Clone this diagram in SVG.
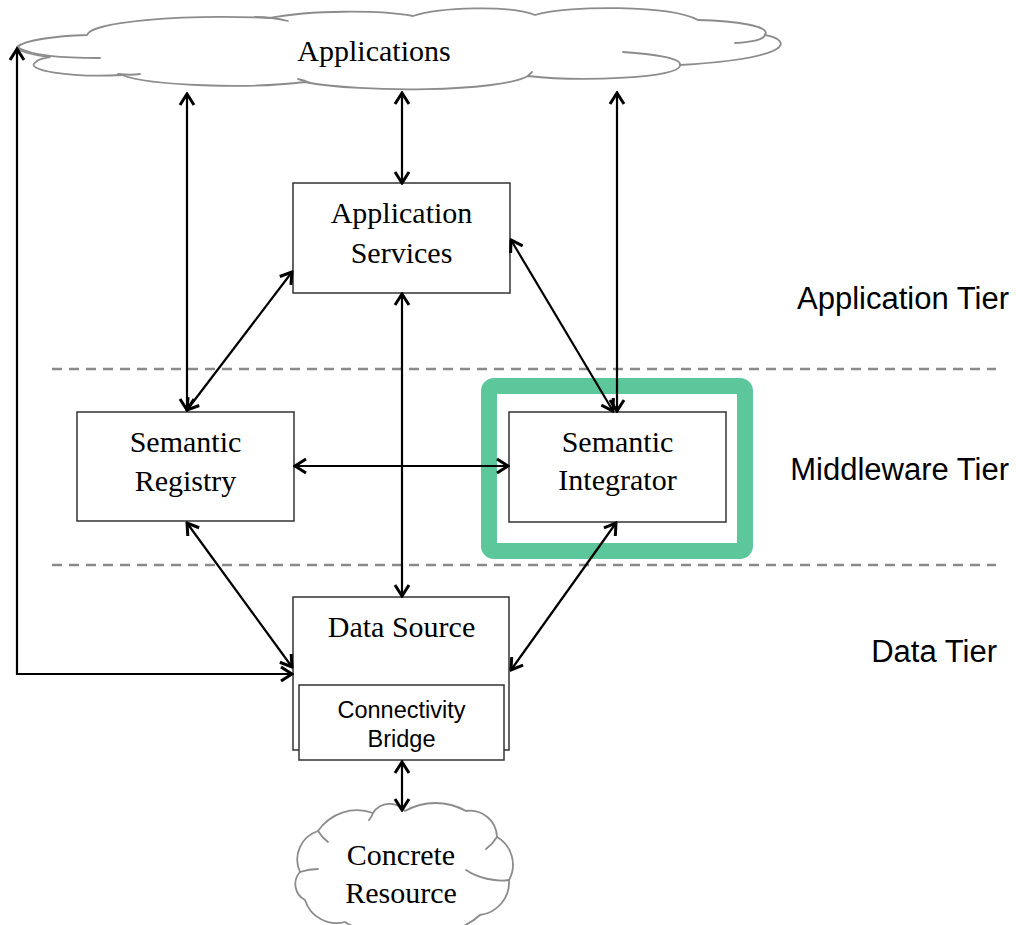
<svg xmlns="http://www.w3.org/2000/svg" width="1016" height="925" viewBox="0 0 1016 925">
  <style>
    .box { fill: #ffffff; stroke: #333333; stroke-width: 1.5; }
    .cloud { fill: #ffffff; stroke: #8c8c8c; stroke-width: 1.8; stroke-linejoin: round; }
    .tail { fill: none; stroke: #8c8c8c; stroke-width: 1.8; stroke-linecap: round; }
    .serif { font-family: "Liberation Serif", "Times New Roman", serif; font-size: 30px; fill: #000000; text-anchor: middle; }
    .sans { font-family: "Liberation Sans", Arial, sans-serif; fill: #000000; }
    .tier { font-size: 31px; text-anchor: end; }
    .divider { stroke: #8a8a8a; stroke-width: 2.5; stroke-dasharray: 10 7; fill: none; }
    .link { fill: none; stroke: #000000; stroke-width: 2.2; marker-start: url(#head); marker-end: url(#head); }
  </style>
  <defs>
    <marker id="head" markerUnits="userSpaceOnUse" viewBox="-14 -9 16 18" refX="0" refY="0" markerWidth="16" markerHeight="18" orient="auto-start-reverse">
      <path d="M-11,-7 L0,0 L-11,7" fill="none" stroke="#000000" stroke-width="3" stroke-linejoin="miter"/>
    </marker>
  </defs>

  <rect width="1016" height="925" fill="#ffffff"/>

  <!-- tier dividers -->
  <g id="dividers">
    <line class="divider" x1="52" y1="369" x2="996" y2="369"/>
    <line class="divider" x1="52" y1="565" x2="996" y2="565"/>
  </g>

  <!-- tier labels -->
  <g id="tier-labels" class="sans tier">
    <text x="1009" y="309">Application Tier</text>
    <text x="1009" y="480">Middleware Tier</text>
    <text x="997" y="662">Data Tier</text>
  </g>

  <!-- Applications cloud -->
  <g id="applications">
    <path class="cloud" d="M17,47 C25,40 55,36 87,35 C90,22 180,14 270,18 C310,10 380,10 413,16 C440,7 510,5 535,15 C570,5 670,5 698,20 C735,21 772,26 765,35 C792,40 796,58 680,65 C682,78 580,82 528,76 C500,92 360,93 305,82 C250,89 150,86 122,75 C70,78 22,70 36,62 C38,59 44,58 50,57 C32,55 17,51 17,47 Z"/>
    <path class="tail" d="M17,47 C32,56 62,58 100,58"/>
    <path class="tail" d="M255,17 C270,17 280,19 288,21"/>
    <path class="tail" d="M765,34 C765,40 752,42 735,43"/>
    <path class="tail" d="M623,52 C652,54 682,58 680,65"/>
    <path class="tail" d="M298,79 C303,80 306,81 310,83"/>
    <path class="tail" d="M118,74 C127,75 134,75 140,74"/>
    <path class="tail" d="M528,76 C529,74 531,73 532,72"/>
    <text class="serif" x="374" y="61">Applications</text>
  </g>

  <!-- Application Services -->
  <g id="application-services">
    <rect class="box" x="293" y="183" width="217" height="110"/>
    <text class="serif" x="401.5" y="223">Application</text>
    <text class="serif" x="401.5" y="263">Services</text>
  </g>

  <!-- Semantic Registry -->
  <g id="semantic-registry">
    <rect class="box" x="77" y="412" width="217" height="109"/>
    <text class="serif" x="185.5" y="452">Semantic</text>
    <text class="serif" x="185.5" y="491">Registry</text>
  </g>

  <!-- Semantic Integrator with highlight frame -->
  <g id="semantic-integrator">
    <rect x="489" y="386" width="256" height="165" rx="5" fill="none" stroke="#5bc79a" stroke-width="16"/>
    <rect class="box" x="509" y="412" width="217" height="110"/>
    <text class="serif" x="617.5" y="452">Semantic</text>
    <text class="serif" x="617.5" y="490">Integrator</text>
  </g>

  <!-- Data Source with Connectivity Bridge -->
  <g id="data-source">
    <rect class="box" x="293" y="597" width="216" height="153"/>
    <text class="serif" x="401.5" y="637">Data Source</text>
  </g>
  <g id="connectivity-bridge">
    <rect class="box" x="299" y="685" width="205" height="75"/>
    <text class="sans" x="401.5" y="718" font-size="23.5" text-anchor="middle">Connectivity</text>
    <text class="sans" x="401.5" y="747" font-size="23.5" text-anchor="middle">Bridge</text>
  </g>

  <!-- Concrete Resource cloud -->
  <g id="concrete-resource">
    <path class="cloud" d="M318,831 A47,47 0 0 1 373,813 A20,20 0 0 1 405,811 A62,62 0 0 1 466,811 A27,27 0 0 1 497,837 A32,32 0 0 1 509,880 A33,33 0 0 1 480,915 A68,68 0 0 1 410,928 A70,70 0 0 1 345,922 A33,33 0 0 1 305,900 A18,18 0 0 1 300,872 A30,30 0 0 1 318,831 Z"/>
    <path class="tail" d="M509,880 C495,882 478,878 466,870"/>
    <path class="tail" d="M373,813 C372,816 371,818 369,820"/>
    <path class="tail" d="M300,872 C306,870 312,869 318,869"/>
    <path class="tail" d="M497,837 C494,842 490,846 486,849"/>
    <path class="tail" d="M318,831 C321,836 324,839 328,842"/>
    <text class="serif" x="401" y="865">Concrete</text>
    <text class="serif" x="401" y="903">Resource</text>
  </g>

  <!-- connectors -->
  <g id="connectors">
    <path class="link" d="M17,49 V674 H292"/>
    <path class="link" d="M187,94 V410"/>
    <path class="link" d="M402,93 V183"/>
    <path class="link" d="M617,93 V411"/>
    <path class="link" d="M511,240 L613,411"/>
    <path class="link" d="M292,272 L187,410"/>
    <path class="link" d="M402,294 V596"/>
    <path class="link" d="M295,466 H508"/>
    <path class="link" d="M187,523 L292,667"/>
    <path class="link" d="M616,523 L511,670"/>
    <path class="link" d="M402,762 V810"/>
  </g>
</svg>
